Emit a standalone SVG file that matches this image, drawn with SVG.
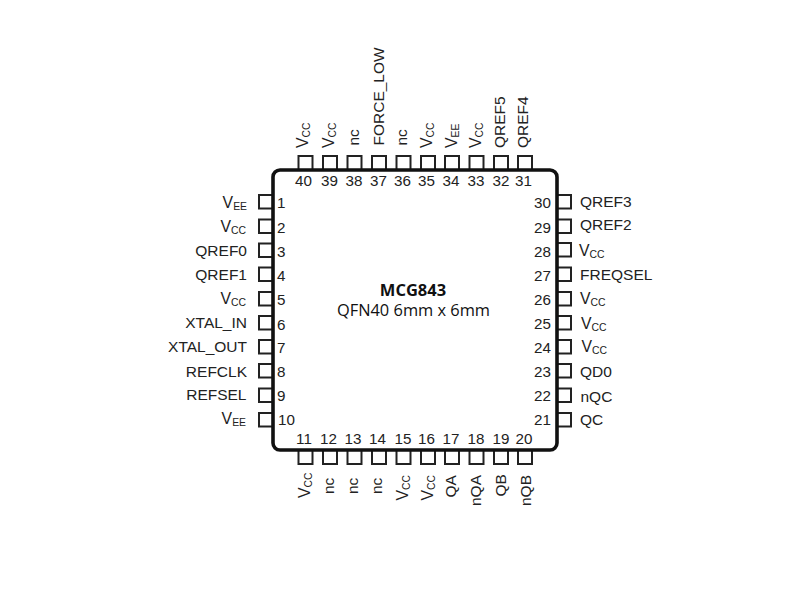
<svg xmlns="http://www.w3.org/2000/svg" width="800" height="600" viewBox="0 0 800 600">
<style>
text{font-family:"Liberation Sans",Arial,sans-serif;fill:#222}
.n{font-size:15.2px}
.m{text-anchor:middle}
.e{text-anchor:end}
.l{font-size:15.5px}
.v{font-size:15.8px}
.s{font-size:10.4px}
.p{fill:#fff;stroke:#222;stroke-width:2}
.t{font-family:"Open Sans",sans-serif;fill:#111;text-anchor:middle}
</style>
<g id="pins-left">
<g id="pin-1"><rect class="p" x="259" y="195" width="14" height="13.5"/><text class="n" x="277" y="208">1</text><text class="v e" x="247" y="207.5">V<tspan class="s" dy="2">EE</tspan></text></g>
<g id="pin-2"><rect class="p" x="259" y="219.500" width="14" height="13.500"/><text class="n" x="277" y="233">2</text><text class="v e" x="246" y="232">V<tspan class="s" dy="2">CC</tspan></text></g>
<g id="pin-3"><rect class="p" x="259" y="243.500" width="14" height="13.500"/><text class="n" x="277" y="257">3</text><text class="l e" x="247" y="256">QREF0</text></g>
<g id="pin-4"><rect class="p" x="259" y="267.500" width="14" height="13.500"/><text class="n" x="277" y="281">4</text><text class="l e" x="247" y="280">QREF1</text></g>
<g id="pin-5"><rect class="p" x="259" y="292" width="14" height="13.500"/><text class="n" x="277" y="305">5</text><text class="v e" x="246" y="304">V<tspan class="s" dy="2">CC</tspan></text></g>
<g id="pin-6"><rect class="p" x="259" y="316" width="14" height="13.500"/><text class="n" x="277" y="330">6</text><text class="l e" x="247" y="328">XTAL_IN</text></g>
<g id="pin-7"><rect class="p" x="259" y="340" width="14" height="13.500"/><text class="n" x="277" y="353">7</text><text class="l e" x="247" y="352">XTAL_OUT</text></g>
<g id="pin-8"><rect class="p" x="259" y="364" width="14" height="13.500"/><text class="n" x="277" y="377">8</text><text class="l e" x="247" y="376.500">REFCLK</text></g>
<g id="pin-9"><rect class="p" x="259" y="388.500" width="14" height="13.500"/><text class="n" x="277" y="401">9</text><text class="l e" x="246.500" y="400">REFSEL</text></g>
<g id="pin-10"><rect class="p" x="259" y="413" width="14" height="13.500"/><text class="n" x="278" y="425">10</text><text class="v e" x="246" y="424">V<tspan class="s" dy="2">EE</tspan></text></g>
</g>
<g id="pins-bottom">
<g id="pin-11"><rect class="p" x="298.500" y="450" width="14" height="14"/><text class="n m" x="304" y="444">11</text><text class="v" transform="translate(309.500 498) rotate(-90)">V<tspan class="s" dy="2">CC</tspan></text></g>
<g id="pin-12"><rect class="p" x="323" y="450" width="14" height="14"/><text class="n m" x="328.500" y="444">12</text><text class="l" transform="translate(333.500 494) rotate(-90)">nc</text></g>
<g id="pin-13"><rect class="p" x="347.500" y="450" width="14" height="14"/><text class="n m" x="353" y="444">13</text><text class="l" transform="translate(358 494) rotate(-90)">nc</text></g>
<g id="pin-14"><rect class="p" x="372" y="450" width="14" height="14"/><text class="n m" x="377.500" y="444">14</text><text class="l" transform="translate(382 494) rotate(-90)">nc</text></g>
<g id="pin-15"><rect class="p" x="396.500" y="450" width="14" height="14"/><text class="n m" x="403" y="444">15</text><text class="v" transform="translate(408 500.500) rotate(-90)">V<tspan class="s" dy="2">CC</tspan></text></g>
<g id="pin-16"><rect class="p" x="421" y="450" width="14" height="14"/><text class="n m" x="426.500" y="444">16</text><text class="v" transform="translate(432.500 500.500) rotate(-90)">V<tspan class="s" dy="2">CC</tspan></text></g>
<g id="pin-17"><rect class="p" x="445" y="450" width="14" height="14"/><text class="n m" x="451" y="444">17</text><text class="l" transform="translate(456 497.500) rotate(-90)">QA</text></g>
<g id="pin-18"><rect class="p" x="469.500" y="450" width="14" height="14"/><text class="n m" x="476" y="444">18</text><text class="l" transform="translate(481 506) rotate(-90)">nQA</text></g>
<g id="pin-19"><rect class="p" x="494" y="450" width="14" height="14"/><text class="n m" x="501" y="444">19</text><text class="l" transform="translate(505.500 496.500) rotate(-90)">QB</text></g>
<g id="pin-20"><rect class="p" x="518" y="450" width="14" height="14"/><text class="n m" x="524" y="444">20</text><text class="l" transform="translate(530.500 506) rotate(-90)">nQB</text></g>
</g>
<g id="pins-right">
<g id="pin-21"><rect class="p" x="557" y="413" width="14" height="13.500"/><text class="n e" x="551" y="425">21</text><text class="l" x="580" y="425">QC</text></g>
<g id="pin-22"><rect class="p" x="557" y="388.500" width="14" height="13.500"/><text class="n e" x="551" y="401">22</text><text class="l" x="580.500" y="401.500">nQC</text></g>
<g id="pin-23"><rect class="p" x="557" y="364" width="14" height="13.500"/><text class="n e" x="551" y="377">23</text><text class="l" x="580" y="377">QD0</text></g>
<g id="pin-24"><rect class="p" x="557" y="340" width="14" height="13.500"/><text class="n e" x="551" y="353">24</text><text class="v" x="581.500" y="352">V<tspan class="s" dy="2">CC</tspan></text></g>
<g id="pin-25"><rect class="p" x="557" y="316" width="14" height="13.500"/><text class="n e" x="551" y="329">25</text><text class="v" x="581" y="329">V<tspan class="s" dy="2">CC</tspan></text></g>
<g id="pin-26"><rect class="p" x="557" y="292" width="14" height="13.500"/><text class="n e" x="551" y="305">26</text><text class="v" x="580" y="304">V<tspan class="s" dy="2">CC</tspan></text></g>
<g id="pin-27"><rect class="p" x="557" y="267.500" width="14" height="13.500"/><text class="n e" x="551" y="281">27</text><text class="l" x="580" y="280">FREQSEL</text></g>
<g id="pin-28"><rect class="p" x="557" y="243" width="14" height="13.500"/><text class="n e" x="551" y="257">28</text><text class="v" x="579" y="256">V<tspan class="s" dy="2">CC</tspan></text></g>
<g id="pin-29"><rect class="p" x="557" y="219.500" width="14" height="13.500"/><text class="n e" x="551" y="233">29</text><text class="l" x="580" y="230">QREF2</text></g>
<g id="pin-30"><rect class="p" x="557" y="195" width="14" height="13.500"/><text class="n e" x="551" y="208">30</text><text class="l" x="580" y="206.500">QREF3</text></g>
</g>
<g id="pins-top">
<g id="pin-31"><rect class="p" x="518" y="156" width="14" height="14"/><text class="n m" x="523.500" y="186">31</text><text class="l" transform="translate(528 148) rotate(-90)">QREF4</text></g>
<g id="pin-32"><rect class="p" x="494" y="156" width="14" height="14"/><text class="n m" x="501" y="186">32</text><text class="l" transform="translate(505 148) rotate(-90)">QREF5</text></g>
<g id="pin-33"><rect class="p" x="469.500" y="156" width="14" height="14"/><text class="n m" x="476" y="186">33</text><text class="v" transform="translate(480.500 148) rotate(-90)">V<tspan class="s" dy="2">CC</tspan></text></g>
<g id="pin-34"><rect class="p" x="445" y="156" width="14" height="14"/><text class="n m" x="451" y="186">34</text><text class="v" transform="translate(456.500 148) rotate(-90)">V<tspan class="s" dy="2">EE</tspan></text></g>
<g id="pin-35"><rect class="p" x="421" y="156" width="14" height="14"/><text class="n m" x="426.500" y="186">35</text><text class="v" transform="translate(432 148) rotate(-90)">V<tspan class="s" dy="2">CC</tspan></text></g>
<g id="pin-36"><rect class="p" x="396.500" y="156" width="14" height="14"/><text class="n m" x="402.500" y="186">36</text><text class="l" transform="translate(407 145.500) rotate(-90)">nc</text></g>
<g id="pin-37"><rect class="p" x="372" y="156" width="14" height="14"/><text class="n m" x="378.500" y="186">37</text><text class="l" transform="translate(384 145.500) rotate(-90)">FORCE_LOW</text></g>
<g id="pin-38"><rect class="p" x="347.500" y="156" width="14" height="14"/><text class="n m" x="354" y="186">38</text><text class="l" transform="translate(358.500 145.500) rotate(-90)">nc</text></g>
<g id="pin-39"><rect class="p" x="323" y="156" width="14" height="14"/><text class="n m" x="329.500" y="186">39</text><text class="v" transform="translate(333.500 148) rotate(-90)">V<tspan class="s" dy="2">CC</tspan></text></g>
<g id="pin-40"><rect class="p" x="298.500" y="156" width="14" height="14"/><text class="n m" x="303.500" y="186">40</text><text class="v" transform="translate(308 148) rotate(-90)">V<tspan class="s" dy="2">CC</tspan></text></g>
</g>
<g id="package">
<rect x="273" y="170" width="284" height="280" rx="7" ry="7" fill="none" stroke="#111" stroke-width="3.600"/>
<text class="t" x="413" y="296" font-size="16.5" font-weight="700">MCG843</text>
<text class="t" x="413.500" y="316" font-size="16.4">QFN40 6mm x 6mm</text>
</g>
<g id="connectors"/>
</svg>
